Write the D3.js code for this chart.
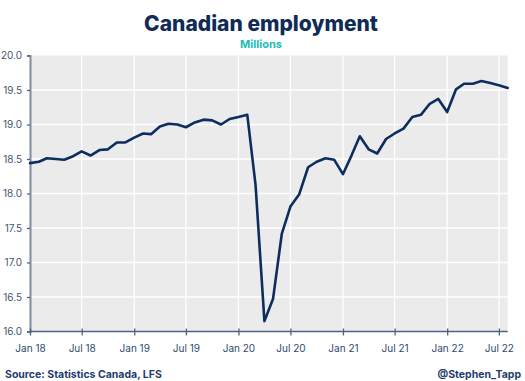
<!DOCTYPE html>
<html>
<head>
<meta charset="utf-8">
<script src="https://cdn.jsdelivr.net/npm/d3@7"></script>
<style>
  html, body { margin: 0; padding: 0; background: #fff; }
  svg { display: block; }
</style>
</head>
<body>
<svg id="chart" width="525" height="381"></svg>
<script>
// Months from Jan 2018 to Aug 2022
const startMonth = "2018-01";
const employment = [
  18.44, 18.46, 18.51, 18.50, 18.49, 18.54, 18.61, 18.55, 18.63, 18.64, 18.74, 18.74,
  18.81, 18.87, 18.86, 18.97, 19.01, 19.00, 18.96, 19.03, 19.07, 19.06, 19.00, 19.08,
  19.11, 19.14, 18.12, 16.15, 16.47, 17.42, 17.81, 17.99, 18.38, 18.46, 18.51, 18.49,
  18.28, 18.56, 18.83, 18.64, 18.58, 18.79, 18.87, 18.94, 19.11, 19.14, 19.30, 19.37,
  19.18, 19.51, 19.59, 19.59, 19.63, 19.60, 19.57, 19.53
];
const yTicks = [16.0, 16.5, 17.0, 17.5, 18.0, 18.5, 19.0, 19.5, 20.0];
const xTickLabels = ["Jan 18","Jul 18","Jan 19","Jul 19","Jan 20","Jul 20","Jan 21","Jul 21","Jan 22","Jul 22"];
const title = "Canadian employment";
const subtitle = "Millions";
const source = "Source: Statistics Canada, LFS";
const credit = "@Stephen_Tapp";

const parse = d3.timeParse("%Y-%m");
const d0 = parse(startMonth);
const data = employment.map((v, i) => ({ date: d3.timeMonth.offset(d0, i), value: v }));
const xTickDates = xTickLabels.map((_, i) => d3.timeMonth.offset(d0, i * 6));

const svg = d3.select("#chart");
const L = 30, R = 507.7, T = 55.5, B = 331.5;

const x = d3.scaleTime().domain([data[0].date, data[data.length - 1].date]).range([L, R]);
const y = d3.scaleLinear().domain([16, 20]).range([B, T]);

// Background
svg.append("rect").attr("x", L).attr("y", T).attr("width", R - L).attr("height", B - T).attr("fill", "#ebebeb");

// Grid
svg.append("g").selectAll("line.h").data(yTicks.slice(1, -1)).join("line")
  .attr("x1", L).attr("x2", R).attr("y1", d => y(d)).attr("y2", d => y(d))
  .attr("stroke", "#ffffff").attr("stroke-width", 1.3);
svg.append("g").selectAll("line.v").data(xTickDates.slice(1)).join("line")
  .attr("x1", d => x(d)).attr("x2", d => x(d)).attr("y1", T).attr("y2", B)
  .attr("stroke", "#ffffff").attr("stroke-width", 1.3);

// Y axis
const yAxis = d3.axisLeft(y).tickValues(yTicks).tickFormat(d3.format(".1f")).tickSize(3).tickPadding(5);
const gy = svg.append("g").attr("transform", `translate(${L},0)`).call(yAxis);
gy.select(".domain").attr("stroke", "#7f8d9c").attr("stroke-width", 2);
gy.selectAll(".tick line").attr("stroke", "#4a5d73").attr("stroke-width", 1.2);
gy.selectAll(".tick text").attr("fill", "#44546a").style("font-family", "Inter, 'Noto Sans', sans-serif").style("font-size", "10px");

// X axis
const xAxis = d3.axisBottom(x).tickValues(xTickDates).tickFormat((d, i) => xTickLabels[i]).tickSize(4).tickPadding(9);
const gx = svg.append("g").attr("transform", `translate(0,${B})`).call(xAxis);
gx.select(".domain").attr("stroke", "#4a6580").attr("stroke-width", 1.5).attr("d", `M${L},0H${R}`);
gx.selectAll(".tick line").attr("y1", -3).attr("stroke", "#4a6580").attr("stroke-width", 1.3);
gx.selectAll(".tick text").attr("fill", "#2d4a6e").style("font-family", "Inter, 'Noto Sans', sans-serif").style("font-size", "10px");

// Line
const line = d3.line().x(d => x(d.date)).y(d => y(d.value));
svg.append("path").datum(data).attr("d", line)
  .attr("fill", "none").attr("stroke", "#0c2d5e").attr("stroke-width", 2.6)
  .attr("stroke-linejoin", "round").attr("stroke-linecap", "round");

// Titles
svg.append("text").attr("x", 261).attr("y", 31).attr("text-anchor", "middle")
  .attr("fill", "#0f2b56").style("font-family", "Inter, Roboto, sans-serif")
  .style("font-weight", "800").style("font-size", "21px").text(title);
svg.append("text").attr("x", 261).attr("y", 48).attr("text-anchor", "middle")
  .attr("fill", "#22bdb5").style("font-family", "Inter, Roboto, sans-serif")
  .style("font-weight", "700").style("font-size", "11px").text(subtitle);

// Footer
svg.append("text").attr("x", 5).attr("y", 378)
  .attr("fill", "#1f3c6e").style("font-family", "Inter, Roboto, sans-serif")
  .style("font-weight", "700").style("font-size", "10.5px").text(source);
svg.append("text").attr("x", 521).attr("y", 378).attr("text-anchor", "end")
  .attr("fill", "#1f3c6e").style("font-family", "Inter, Roboto, sans-serif")
  .style("font-weight", "700").style("font-size", "10.5px").text(credit);
</script>
</body>
</html>
